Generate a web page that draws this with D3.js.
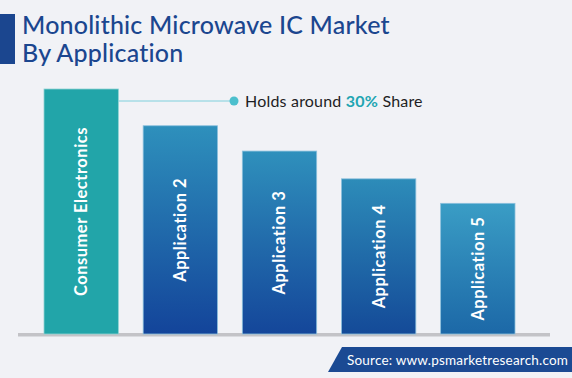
<!DOCTYPE html>
<html>
<head>
<meta charset="utf-8">
<script src="https://cdn.jsdelivr.net/npm/d3@7"></script>
<style>
  html, body { margin: 0; padding: 0; background: #f1f2f6; }
  svg { display: block; font-family: "Lato", "Noto Sans", sans-serif; }
</style>
</head>
<body>
<div id="chart"></div>
<script>
const categories = ["Consumer Electronics", "Application 2", "Application 3", "Application 4", "Application 5"];
const shares = [30, 25.5, 22.4, 19, 16];
const titleLines = ["Monolithic Microwave IC Market", "By Application"];
const sourceText = "Source: www.psmarketresearch.com";

const width = 572;
const height = 378;
const baseY = 334;

const svg = d3.select("#chart")
  .append("svg")
  .attr("width", width)
  .attr("height", height)
  .attr("viewBox", `0 0 ${width} ${height}`);

svg.append("rect").attr("width", width).attr("height", height).attr("fill", "#f1f2f6");

const x = d3.scaleBand().domain(categories).range([44, 515]).paddingInner(0.25).paddingOuter(0);
const y = d3.scaleLinear().domain([0, 30]).range([baseY, 89]);

// gradients for the blue bars
const defs = svg.append("defs");
const gradStops = [
  null,
  ["#2e90bc", "#13449a"],
  ["#2f90bc", "#14469a"],
  ["#2d8cb9", "#144a98"],
  ["#3a9dc5", "#1c68a7"],
];
gradStops.forEach((stops, i) => {
  if (!stops) return;
  const g = defs.append("linearGradient")
    .attr("id", `bar-grad-${i}`)
    .attr("x1", 0).attr("y1", 0).attr("x2", 0).attr("y2", 1);
  g.append("stop").attr("offset", "0%").attr("stop-color", stops[0]);
  g.append("stop").attr("offset", "100%").attr("stop-color", stops[1]);
});

// title
svg.append("rect").attr("x", 0).attr("y", 14).attr("width", 15).attr("height", 50).attr("fill", "#1b468f");
svg.append("g")
  .selectAll("text")
  .data(titleLines)
  .join("text")
  .attr("x", 22)
  .attr("y", (d, i) => 34 + i * 28)
  .attr("fill", "#1b468f")
  .attr("font-size", 25)
  .attr("font-weight", 500)
  .attr("letter-spacing", 0.2)
  .text((d) => d);

// baseline
svg.append("rect")
  .attr("x", 18)
  .attr("y", baseY - 1)
  .attr("width", 532)
  .attr("height", 3.5)
  .attr("fill", "#c3c3c7");

// bars
svg.append("g")
  .selectAll("rect")
  .data(categories)
  .join("rect")
  .attr("x", (d) => x(d))
  .attr("y", (d, i) => y(shares[i]))
  .attr("width", x.bandwidth())
  .attr("height", (d, i) => baseY - y(shares[i]))
  .attr("fill", (d, i) => (i === 0 ? "#22a5a9" : `url(#bar-grad-${i})`))
  .attr("stroke", (d, i) => (i === 0 ? "#8fd2d3" : "#8cc0dd"))
  .attr("stroke-width", 0.8);

// bar labels
svg.append("g")
  .selectAll("text")
  .data(categories)
  .join("text")
  .attr("transform", (d, i) => {
    const cx = x(d) + x.bandwidth() / 2;
    const cy = (y(shares[i]) + baseY) / 2;
    return `translate(${cx},${cy}) rotate(-90)`;
  })
  .attr("text-anchor", "middle")
  .attr("dy", "0.36em")
  .attr("fill", "#ffffff")
  .attr("font-size", 16.5)
  .attr("font-weight", 700)
  .attr("letter-spacing", 0.5)
  .text((d) => d);

// annotation
const annY = y(shares[0]) + 12;
const dotX = 234;
svg.append("line")
  .attr("x1", x(categories[0]) + x.bandwidth())
  .attr("x2", dotX)
  .attr("y1", annY)
  .attr("y2", annY)
  .attr("stroke", "#7fd0dc")
  .attr("stroke-width", 1);
svg.append("circle").attr("cx", dotX).attr("cy", annY).attr("r", 4.5).attr("fill", "#4cbfcd");
const ann = svg.append("text")
  .attr("x", 245)
  .attr("y", annY + 6)
  .attr("font-size", 16)
  .attr("letter-spacing", 0.2)
  .attr("fill", "#1e1e24");
ann.append("tspan").text("Holds around ");
ann.append("tspan").attr("font-weight", 700).attr("fill", "#22a5b2").text(`${shares[0]}%`);
ann.append("tspan").text(" Share");

// source banner
svg.append("path")
  .attr("d", "M342,347 L572,347 L572,372 L328,372 Z")
  .attr("fill", "#1b4a93");
svg.append("text")
  .attr("x", 347)
  .attr("y", 364.5)
  .attr("font-size", 13.5)
  .attr("letter-spacing", 0.2)
  .attr("fill", "#ffffff")
  .text(sourceText);
</script>
</body>
</html>
